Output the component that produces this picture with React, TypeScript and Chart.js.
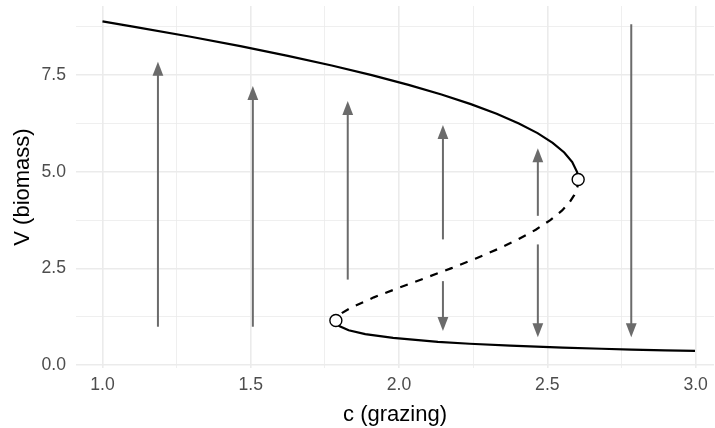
import React, { useEffect, useRef } from 'react';
import { Chart, registerables } from 'chart.js';

Chart.register(...registerables);

// Upper stable branch (c, V)
const upperC = [1.0, 1.108, 1.293, 1.465, 1.625, 1.773, 1.908, 2.032, 2.143, 2.242, 2.329, 2.404, 2.467, 2.518, 2.557, 2.584, 2.6, 2.603, 2.604];
const upperV = [8.89, 8.75, 8.5, 8.25, 8.0, 7.75, 7.5, 7.25, 7.0, 6.75, 6.5, 6.25, 6.0, 5.75, 5.5, 5.25, 5.0, 4.9, 4.8];

// Unstable (dashed) branch
const middleC = [2.604, 2.604, 2.601, 2.591, 2.574, 2.55, 2.51, 2.461, 2.401, 2.333, 2.257, 2.175, 2.088, 2.0, 1.915, 1.842, 1.8085, 1.7938, 1.7873];
const middleV = [4.8, 4.7, 4.6, 4.4, 4.2, 4.0, 3.75, 3.5, 3.25, 3.0, 2.75, 2.5, 2.25, 2.0, 1.75, 1.5, 1.35, 1.25, 1.15];

// Lower stable branch
const lowerC = [1.787, 1.792, 1.8, 1.83, 1.886, 1.98, 2.131, 2.238, 2.375, 2.552, 2.683, 2.784, 2.897, 2.998];
const lowerV = [1.15, 1.05, 1.0, 0.9, 0.8, 0.7, 0.6, 0.55, 0.5, 0.45, 0.42, 0.4, 0.38, 0.364];

// Fold (bifurcation) points
const foldC = [2.604, 1.787];
const foldV = [4.8, 1.15];

// Arrows
const arrowC = [1.187, 1.507, 1.827, 2.148, 2.148, 2.468, 2.468, 2.783];
const arrowFrom = [0.99, 0.99, 2.21, 3.25, 2.17, 3.86, 3.12, 8.82];
const arrowTo = [7.85, 7.22, 6.83, 6.21, 0.88, 5.61, 0.72, 0.72];

// Ticks
const xTicks = [1.0, 1.25, 1.5, 1.75, 2.0, 2.25, 2.5, 2.75, 3.0];
const yTicks = [0, 1.25, 2.5, 3.75, 5.0, 6.25, 7.5, 8.75];

const isMajorX = (v: number) => Math.abs(v * 2 - Math.round(v * 2)) < 1e-6;
const isMajorY = (v: number) => Math.abs(v / 2.5 - Math.round(v / 2.5)) < 1e-6;

const pts = (cs: number[], vs: number[]) => cs.map((c, i) => ({ x: c, y: vs[i] }));

const arrowPlugin = {
  id: 'arrows',
  beforeDatasetsDraw(chart: any) {
    const { ctx, scales } = chart;
    const xs = scales.x;
    const ys = scales.y;
    const headLen = 14;
    const headHalf = 5.4;
    ctx.save();
    ctx.strokeStyle = '#6b6b6b';
    ctx.fillStyle = '#6b6b6b';
    ctx.lineWidth = 2;
    ctx.lineCap = 'butt';
    for (let i = 0; i < arrowC.length; i++) {
      const px = xs.getPixelForValue(arrowC[i]);
      const y0 = ys.getPixelForValue(arrowFrom[i]);
      const y1 = ys.getPixelForValue(arrowTo[i]);
      const dir = y1 > y0 ? 1 : -1;
      const baseY = y1 - dir * headLen;
      ctx.beginPath();
      ctx.moveTo(px, y0);
      ctx.lineTo(px, baseY + dir * 1);
      ctx.stroke();
      ctx.beginPath();
      ctx.moveTo(px, y1);
      ctx.lineTo(px - headHalf, baseY);
      ctx.lineTo(px + headHalf, baseY);
      ctx.closePath();
      ctx.fill();
    }
    ctx.restore();
  },
};

export default function App() {
  const ref = useRef<HTMLCanvasElement | null>(null);

  useEffect(() => {
    document.body.style.margin = '0';
    const canvas = ref.current;
    if (!canvas) return;
    const font = 'Liberation Sans';
    const chart = new Chart(canvas, {
      type: 'scatter',
      data: {
        datasets: [
          {
            data: pts(upperC, upperV),
            showLine: true,
            borderColor: '#000000',
            borderWidth: 2.2,
            pointRadius: 0,
            tension: 0,
            order: 2,
          },
          {
            data: pts(middleC, middleV),
            showLine: true,
            borderColor: '#000000',
            borderWidth: 2.2,
            borderDash: [8, 8],
            pointRadius: 0,
            tension: 0,
            order: 2,
          },
          {
            data: pts(lowerC, lowerV),
            showLine: true,
            borderColor: '#000000',
            borderWidth: 2.2,
            pointRadius: 0,
            tension: 0,
            order: 2,
          },
          {
            data: pts(foldC, foldV),
            showLine: false,
            pointRadius: 6,
            pointBorderWidth: 1.4,
            pointBackgroundColor: '#ffffff',
            pointBorderColor: '#000000',
            order: -1,
          },
        ],
      },
      options: {
        animation: false,
        responsive: false,
        devicePixelRatio: 1,
        layout: { autoPadding: false, padding: { top: 6, right: 1, bottom: 0, left: 0 } },
        plugins: { legend: { display: false }, tooltip: { enabled: false } },
        scales: {
          x: {
            type: 'linear',
            min: 0.9107,
            max: 3.062,
            afterBuildTicks: (scale: any) => {
              scale.ticks = xTicks.map((v) => ({ value: v }));
            },
            afterFit: (scale: any) => {
              scale.height = 60;
              scale.paddingLeft = 0;
              scale.paddingRight = 0;
            },
            border: { display: false },
            grid: {
              color: '#EBEBEB',
              lineWidth: (ctx: any) => (ctx.tick && isMajorX(ctx.tick.value) ? 1.6 : 0.8),
              drawTicks: false,
            },
            ticks: {
              autoSkip: false,
              maxRotation: 0,
              padding: 7,
              color: '#4D4D4D',
              font: { family: font, size: 17.6 },
              callback: (v: any) => (isMajorX(Number(v)) ? Number(v).toFixed(1) : ''),
            },
            title: {
              display: true,
              text: 'c (grazing)',
              color: '#000000',
              font: { family: font, size: 22 },
              padding: { top: 0, bottom: 0 },
            },
          },
          y: {
            type: 'linear',
            min: -0.078,
            max: 9.29,
            afterBuildTicks: (scale: any) => {
              scale.ticks = yTicks.map((v) => ({ value: v }));
            },
            afterFit: (scale: any) => {
              scale.width = 76;
              scale.paddingTop = 0;
              scale.paddingBottom = 0;
            },
            border: { display: false },
            grid: {
              color: '#EBEBEB',
              lineWidth: (ctx: any) => (ctx.tick && isMajorY(ctx.tick.value) ? 1.6 : 0.8),
              drawTicks: false,
            },
            ticks: {
              autoSkip: false,
              padding: 10,
              color: '#4D4D4D',
              font: { family: font, size: 17.6 },
              callback: (v: any) => (isMajorY(Number(v)) ? Number(v).toFixed(1) : ''),
            },
            title: {
              display: true,
              text: 'V (biomass)',
              color: '#000000',
              font: { family: font, size: 22 },
              padding: { top: 10, bottom: 0 },
            },
          },
        },
      },
      plugins: [arrowPlugin],
    } as any);
    return () => chart.destroy();
  }, []);

  return (
    <div style={{ width: 715, height: 428 }}>
      <canvas ref={ref} width={715} height={428} style={{ width: 715, height: 428, display: 'block' }} />
    </div>
  );
}
